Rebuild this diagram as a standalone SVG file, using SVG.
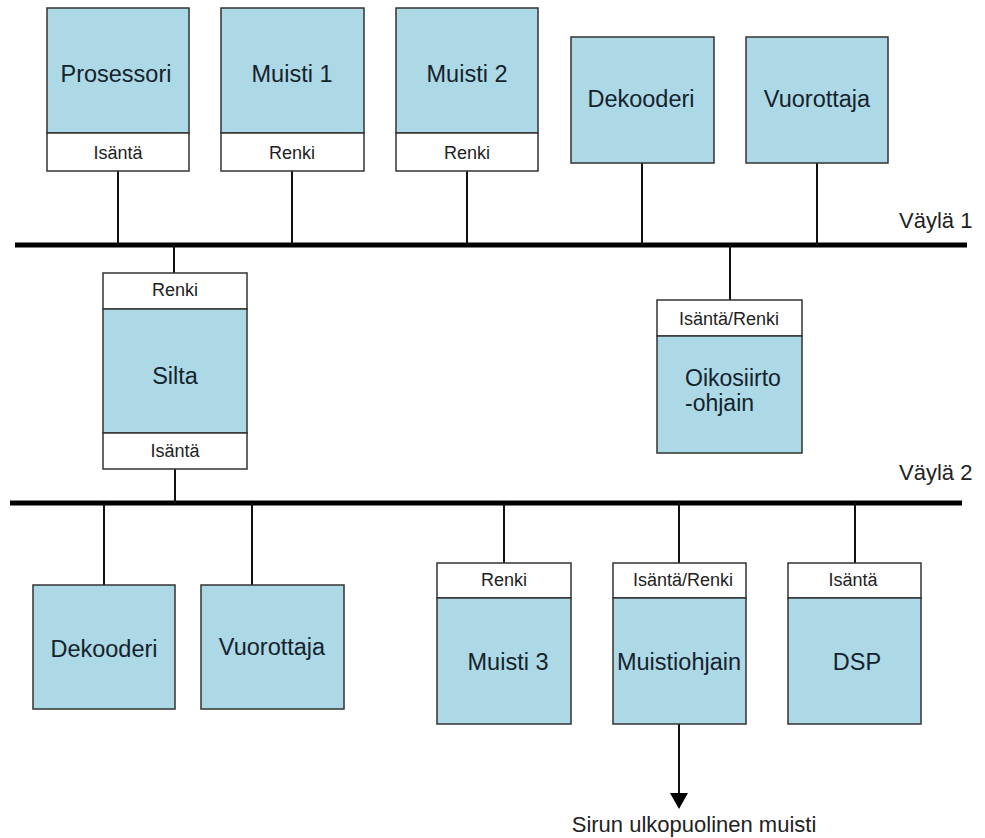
<svg xmlns="http://www.w3.org/2000/svg" width="985" height="838" viewBox="0 0 985 838">
<style>
  .box{fill:#add8e6;stroke:#333;stroke-width:1.5}
  .hdr{fill:#fff;stroke:#333;stroke-width:1.5}
  .big{font-family:"Liberation Sans",Arial,sans-serif;font-size:23.5px;fill:#14232c;text-anchor:middle}
  .bigl{font-family:"Liberation Sans",Arial,sans-serif;font-size:23px;fill:#14232c;text-anchor:start}
  .sm{font-family:"Liberation Sans",Arial,sans-serif;font-size:18px;fill:#222;text-anchor:middle}
  .lbl{font-family:"Liberation Sans",Arial,sans-serif;font-size:22px;fill:#222}
  .bus{stroke:#000;stroke-width:5}
  .wire{stroke:#111;stroke-width:2}
</style>
<rect width="985" height="838" fill="#fff"/>
<g id="connectors">
  <line class="bus" x1="15" y1="245" x2="967" y2="245"/>
  <line class="bus" x1="10" y1="503" x2="962" y2="503"/>
  <line class="wire" x1="118" y1="171" x2="118" y2="245"/>
  <line class="wire" x1="292" y1="171" x2="292" y2="245"/>
  <line class="wire" x1="467" y1="171" x2="467" y2="245"/>
  <line class="wire" x1="642" y1="163" x2="642" y2="245"/>
  <line class="wire" x1="817" y1="163" x2="817" y2="245"/>
  <line class="wire" x1="174" y1="245" x2="174" y2="273"/>
  <line class="wire" x1="730" y1="245" x2="730" y2="300"/>
  <line class="wire" x1="175" y1="469" x2="175" y2="503"/>
  <line class="wire" x1="104" y1="503" x2="104" y2="585"/>
  <line class="wire" x1="252" y1="503" x2="252" y2="585"/>
  <line class="wire" x1="504" y1="503" x2="504" y2="563"/>
  <line class="wire" x1="679" y1="503" x2="679" y2="563"/>
  <line class="wire" x1="855" y1="503" x2="855" y2="563"/>
  <line class="wire" x1="679" y1="724" x2="679" y2="795"/>
  <polygon points="670,793 688,793 679,809" fill="#000"/>
</g>
<text class="lbl" x="899" y="228">Väylä 1</text>
<text class="lbl" x="899" y="480">Väylä 2</text>
<text class="lbl" x="694" y="832" style="text-anchor:middle">Sirun ulkopuolinen muisti</text>
<g id="prosessori">
  <rect class="box" x="47" y="8" width="142" height="125"/>
  <rect class="hdr" x="47" y="133" width="142" height="38"/>
  <text class="big" x="116" y="82">Prosessori</text>
  <text class="sm" x="118" y="159">Isäntä</text>
</g>
<g id="muisti1">
  <rect class="box" x="221" y="8" width="143" height="125"/>
  <rect class="hdr" x="221" y="133" width="143" height="38"/>
  <text class="big" x="292" y="82">Muisti 1</text>
  <text class="sm" x="292" y="159">Renki</text>
</g>
<g id="muisti2">
  <rect class="box" x="396" y="8" width="142" height="125"/>
  <rect class="hdr" x="396" y="133" width="142" height="38"/>
  <text class="big" x="467" y="82">Muisti 2</text>
  <text class="sm" x="467" y="159">Renki</text>
</g>
<g id="dekooderi1">
  <rect class="box" x="571" y="37" width="143" height="126"/>
  <text class="big" x="641" y="107">Dekooderi</text>
</g>
<g id="vuorottaja1">
  <rect class="box" x="746" y="37" width="142" height="126"/>
  <text class="big" x="817" y="107">Vuorottaja</text>
</g>
<g id="silta">
  <rect class="hdr" x="103" y="273" width="144" height="36"/>
  <rect class="box" x="103" y="309" width="144" height="124"/>
  <rect class="hdr" x="103" y="433" width="144" height="36"/>
  <text class="sm" x="175" y="296">Renki</text>
  <text class="big" x="175" y="384">Silta</text>
  <text class="sm" x="175" y="457">Isäntä</text>
</g>
<g id="oikosiirto">
  <rect class="hdr" x="657" y="300" width="145" height="36"/>
  <rect class="box" x="657" y="336" width="145" height="117"/>
  <text class="sm" x="729" y="325">Isäntä/Renki</text>
  <text class="bigl" x="685" y="386">Oikosiirto</text>
  <text class="bigl" x="685" y="411">-ohjain</text>
</g>
<g id="dekooderi2">
  <rect class="box" x="33" y="585" width="142" height="124"/>
  <text class="big" x="104" y="657">Dekooderi</text>
</g>
<g id="vuorottaja2">
  <rect class="box" x="201" y="585" width="143" height="124"/>
  <text class="big" x="272" y="655">Vuorottaja</text>
</g>
<g id="muisti3">
  <rect class="hdr" x="437" y="563" width="134" height="35"/>
  <rect class="box" x="437" y="598" width="134" height="126"/>
  <text class="sm" x="504" y="586">Renki</text>
  <text class="big" x="508" y="670">Muisti 3</text>
</g>
<g id="muistiohjain">
  <rect class="hdr" x="613" y="563" width="133" height="35"/>
  <rect class="box" x="613" y="598" width="133" height="126"/>
  <text class="sm" x="683" y="586">Isäntä/Renki</text>
  <text class="big" x="679" y="670">Muistiohjain</text>
</g>
<g id="dsp">
  <rect class="hdr" x="788" y="563" width="133" height="35"/>
  <rect class="box" x="788" y="598" width="133" height="126"/>
  <text class="sm" x="853" y="586">Isäntä</text>
  <text class="big" x="857" y="670">DSP</text>
</g>
</svg>
